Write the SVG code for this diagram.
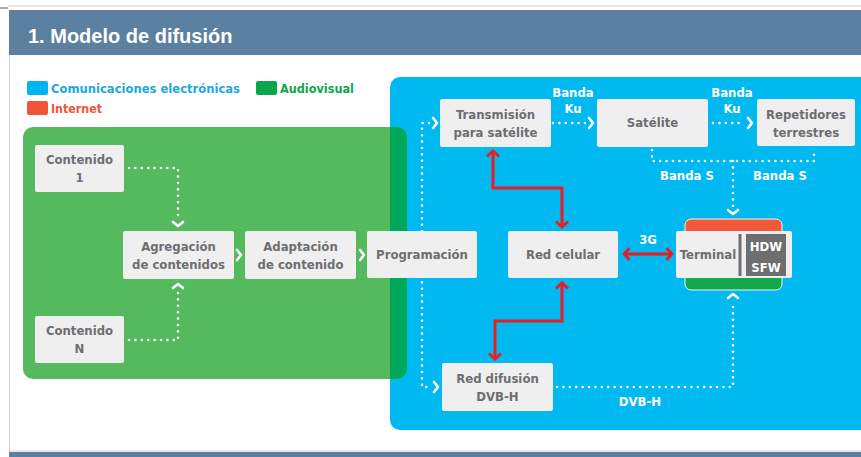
<svg xmlns="http://www.w3.org/2000/svg" width="861" height="457" viewBox="0 0 861 457">
<defs>
<style>
.node rect{fill:#efefef}
.node text{font-family:"DejaVu Sans Condensed","Liberation Sans",sans-serif;font-weight:bold;font-size:13px;fill:#6d6e71;text-anchor:middle}
.lbl{font-family:"DejaVu Sans Condensed","Liberation Sans",sans-serif;font-weight:bold;font-size:13px;fill:#fff;text-anchor:middle}
.leg{font-family:"DejaVu Sans Condensed","Liberation Sans",sans-serif;font-weight:bold;font-size:13px}
.dot{fill:none;stroke:#fff;stroke-width:2.6;stroke-linecap:round;stroke-dasharray:0 6.4}
.chev{fill:none;stroke:#fff;stroke-width:2.6;stroke-linecap:round;stroke-linejoin:round}
.red{fill:none;stroke:#ec1c24;stroke-width:3;marker-start:url(#rh);marker-end:url(#rh)}
</style>
<marker id="rh" viewBox="-7 -8 9 16" refX="0" refY="0" markerWidth="9" markerHeight="16" markerUnits="userSpaceOnUse" orient="auto-start-reverse">
<path d="M-5.5 -6 L0 0 L-5.5 6" fill="none" stroke="#ec1c24" stroke-width="2.8"/>
</marker>
<clipPath id="gclip"><rect x="23" y="127" width="384" height="252" rx="10"/></clipPath>
</defs>
<rect width="861" height="457" fill="#fff"/>
<line x1="8" y1="6" x2="861" y2="6" stroke="#d0d0d0" stroke-width="1"/>
<line x1="0" y1="8" x2="8" y2="8" stroke="#555" stroke-width="1"/>
<line x1="9.5" y1="55" x2="9.5" y2="452" stroke="#c8d2dc" stroke-width="1"/>
<rect x="9" y="10" width="852" height="45" fill="#5b80a0"/>
<text x="28" y="43" font-family="Liberation Sans,Arial,sans-serif" font-weight="bold" font-size="20" fill="#fff">1. Modelo de difusión</text>
<line x1="9" y1="451" x2="861" y2="451" stroke="#d0d0d0" stroke-width="1"/>
<rect x="9" y="452" width="852" height="5" fill="#5b80a0"/>

<g id="legend">
<rect x="27" y="81" width="21" height="14" rx="2" fill="#00b5ef"/>
<text class="leg" x="51" y="93" fill="#1ea7e1" textLength="189" lengthAdjust="spacingAndGlyphs">Comunicaciones electrónicas</text>
<rect x="256" y="81" width="21" height="14" rx="2" fill="#0ca74c"/>
<text class="leg" x="280" y="93" fill="#0ca74c" textLength="74" lengthAdjust="spacingAndGlyphs">Audiovisual</text>
<rect x="27" y="101" width="21" height="14" rx="2" fill="#f05537"/>
<text class="leg" x="51" y="113" fill="#f05537" textLength="51" lengthAdjust="spacingAndGlyphs">Internet</text>
</g>

<g id="panels">
<rect x="390" y="77" width="490" height="353" rx="10" fill="#00b9f0"/>
<rect x="23" y="127" width="384" height="252" rx="10" fill="#55b95e"/>
<rect x="390" y="120" width="30" height="270" fill="#00a859" clip-path="url(#gclip)"/>
</g>

<g id="connectors">
<path class="dot" d="M129 168 H178 V218"/>
<path class="chev" d="M173 222 L178 226 L183 222"/>
<path class="dot" d="M129 340 H178 V292"/>
<path class="chev" d="M173 288 L178 284 L183 288"/>
<path class="chev" d="M237 250 L241 255 L237 260"/>
<path class="chev" d="M360 250 L364 255 L360 260"/>
<path class="dot" d="M429 123 H422 V387 H429"/>
<path class="chev" d="M433 118 L437 123 L433 128"/>
<path class="chev" d="M434 382 L438 387 L434 392"/>
<path class="dot" d="M553 123 H586"/>
<path class="chev" d="M589 118 L593 123 L589 128"/>
<path class="dot" d="M713 123 H745"/>
<path class="chev" d="M748 118 L752 123 L748 128"/>
<path class="dot" d="M652 150 V161 H814 V150"/>
<path class="dot" d="M733 161 V206"/>
<path class="chev" d="M728 210 L733 214 L738 210"/>
<path class="dot" d="M557 387 H733 V301"/>
<path class="chev" d="M728 298 L733 294 L738 298"/>
<path class="red" d="M493 151 V188 H562 V227"/>
<path class="red" d="M562 283 V321 H495 V359"/>
<path class="red" d="M624 254 H672"/>
<text class="lbl" x="573" y="97">Banda</text>
<text class="lbl" x="573" y="113">Ku</text>
<text class="lbl" x="732" y="97">Banda</text>
<text class="lbl" x="732" y="113">Ku</text>
<text class="lbl" x="687" y="180">Banda S</text>
<text class="lbl" x="780" y="180">Banda S</text>
<text class="lbl" x="648" y="244">3G</text>
<text class="lbl" x="640" y="406">DVB-H</text>
</g>

<g id="contenido1" class="node"><rect x="35" y="145" width="89" height="47" rx="2"/><text x="79.5" y="164">Contenido</text><text x="79.5" y="182">1</text></g>
<g id="contenidoN" class="node"><rect x="35" y="316" width="89" height="47" rx="2"/><text x="79.5" y="335">Contenido</text><text x="79.5" y="353">N</text></g>
<g id="agregacion" class="node"><rect x="123" y="231" width="111" height="48" rx="2"/><text x="178.5" y="251">Agregación</text><text x="178.5" y="269">de contenidos</text></g>
<g id="adaptacion" class="node"><rect x="245" y="231" width="111" height="48" rx="2"/><text x="300.5" y="251">Adaptación</text><text x="300.5" y="269">de contenido</text></g>
<g id="programacion" class="node"><rect x="367" y="231" width="110" height="47" rx="2"/><text x="422" y="259">Programación</text></g>
<g id="redcelular" class="node"><rect x="508" y="231" width="110" height="47" rx="2"/><text x="563" y="259">Red celular</text></g>
<g id="transmision" class="node"><rect x="440" y="99" width="111" height="48" rx="2"/><text x="495.5" y="119">Transmisión</text><text x="495.5" y="137">para satélite</text></g>
<g id="satelite" class="node"><rect x="597" y="99" width="111" height="48" rx="2"/><text x="652.5" y="127">Satélite</text></g>
<g id="repetidores" class="node"><rect x="757" y="99" width="98" height="47" rx="2"/><text x="806" y="119">Repetidores</text><text x="806" y="137">terrestres</text></g>
<g id="reddifusion" class="node"><rect x="442" y="363" width="111" height="48" rx="2"/><text x="497.5" y="383">Red difusión</text><text x="497.5" y="401">DVB-H</text></g>
<g id="terminal" class="node">
<rect x="685" y="219" width="97" height="22" rx="6" stroke="#f4f4f4" stroke-width="1" style="fill:#f05a38"/>
<rect x="685" y="268" width="97" height="22" rx="6" stroke="#f4f4f4" stroke-width="1" style="fill:#12a84b"/>
<rect x="676" y="231" width="116" height="47" rx="2"/>
<line x1="740" y1="234" x2="740" y2="276" stroke="#6d6e70" stroke-width="3"/>
<rect x="746" y="234" width="40" height="42" style="fill:#6d6e70"/>
<text x="708" y="259">Terminal</text>
<text x="766" y="251" style="fill:#fff">HDW</text>
<text x="766" y="272" style="fill:#fff">SFW</text>
</g>
</svg>
